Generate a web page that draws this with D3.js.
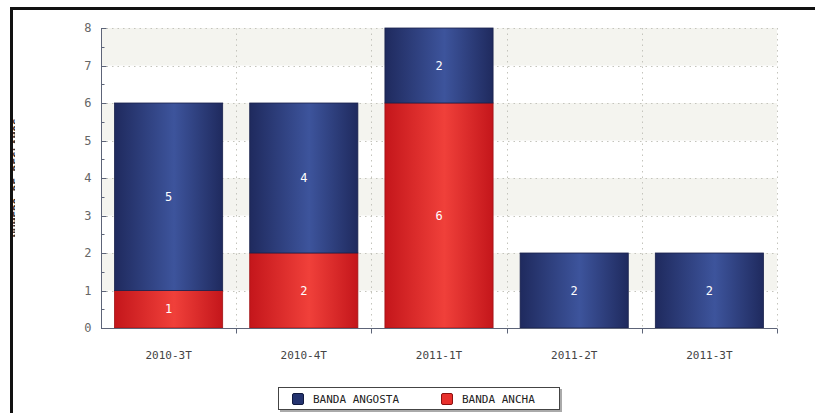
<!DOCTYPE html>
<html>
<head>
<meta charset="utf-8">
<script src="https://cdn.jsdelivr.net/npm/d3@7"></script>
<style>
  html, body { margin: 0; padding: 0; background: #fff; }
  svg { display: block; }
</style>
</head>
<body>
<svg id="chart" width="815" height="413"></svg>
<script>
// Quarterly counts per band type
const categories = ["2010-3T", "2010-4T", "2011-1T", "2011-2T", "2011-3T"];
const bandaAncha = [1, 2, 6, 0, 0];
const bandaAngosta = [5, 4, 2, 2, 2];
const seriesNames = ["BANDA ANGOSTA", "BANDA ANCHA"];
const yTicks = [0, 1, 2, 3, 4, 5, 6, 7, 8];

const svg = d3.select("#chart");
const W = 815, H = 413;
const margin = { left: 101, right: 38, top: 28, bottom: 85 };
const x0 = margin.left, x1 = W - margin.right;
const y0 = H - margin.bottom, y1 = margin.top;

const x = d3.scaleBand().domain(categories).range([x0, x1]).paddingInner(0.2).paddingOuter(0.1);
const xb = d3.scaleBand().domain(categories).range([x0, x1]).padding(0);
const y = d3.scaleLinear().domain([0, 8]).range([y0, y1]);

const defs = svg.append("defs");
function grad(id, edge, mid) {
  const g = defs.append("linearGradient").attr("id", id).attr("x1", "0%").attr("x2", "100%");
  g.append("stop").attr("offset", "0%").attr("stop-color", edge);
  g.append("stop").attr("offset", "55%").attr("stop-color", mid);
  g.append("stop").attr("offset", "100%").attr("stop-color", edge);
}
grad("gBlue", "#1f2a5e", "#3d549c");
grad("gRed", "#c4161b", "#f0403a");

// Axis title mostly hidden behind the frame edge
defs.append("clipPath").attr("id", "titleClip").append("rect")
  .attr("x", 10).attr("y", 0).attr("width", 5).attr("height", H);
svg.append("g").attr("clip-path", "url(#titleClip)")
  .append("text")
  .attr("transform", "translate(21,178) rotate(-90)")
  .attr("text-anchor", "middle")
  .attr("font-family", "DejaVu Sans Mono, monospace")
  .attr("font-size", 11)
  .attr("font-weight", "bold")
  .attr("fill", "#333")
  .text("NÚMERO DE RECLAMOS");

// Frame around the chart
svg.append("path").attr("d", `M11.5,${H} L11.5,8.5 L${W},8.5`)
  .attr("fill", "none").attr("stroke", "#111").attr("stroke-width", 3);

// Alternating background bands
const bands = yTicks.slice(0, -1).filter(v => v % 2 === 1);
svg.append("g").selectAll("rect").data(bands).join("rect")
  .attr("x", x0).attr("width", x1 - x0)
  .attr("y", d => y(d + 1)).attr("height", d => y(d) - y(d + 1))
  .attr("fill", "#f4f4ef");

// Dotted grid
const grid = svg.append("g").attr("stroke", "#c4c4bc").attr("stroke-dasharray", "1.5,4").attr("stroke-width", 1);
grid.selectAll("line.h").data(yTicks.slice(1)).join("line").attr("class", "h")
  .attr("x1", x0).attr("x2", x1).attr("y1", d => Math.round(y(d)) + 0.5).attr("y2", d => Math.round(y(d)) + 0.5);
const vx = categories.slice(1).map(c => xb(c)).concat([x1]);
grid.selectAll("line.v").data(vx).join("line").attr("class", "v")
  .attr("x1", d => Math.round(d) + 0.5).attr("x2", d => Math.round(d) + 0.5).attr("y1", y1).attr("y2", y0);

// Stacked bars
const rows = categories.map((c, i) => ({ cat: c, ancha: bandaAncha[i], angosta: bandaAngosta[i] }));
const stack = d3.stack().keys(["ancha", "angosta"])(rows);
const fills = { ancha: "url(#gRed)", angosta: "url(#gBlue)" };
const strokes = { ancha: "#a01216", angosta: "#1a224d" };
stack.forEach(layer => {
  const g = svg.append("g");
  const segs = layer.filter(d => d[1] > d[0]);
  g.selectAll("rect").data(segs).join("rect")
    .attr("x", d => x(d.data.cat)).attr("width", x.bandwidth())
    .attr("y", d => y(d[1])).attr("height", d => y(d[0]) - y(d[1]))
    .attr("fill", fills[layer.key]).attr("stroke", strokes[layer.key]).attr("stroke-width", 0.8);
  g.selectAll("text").data(segs).join("text")
    .attr("x", d => x(d.data.cat) + x.bandwidth() / 2)
    .attr("y", d => (y(d[0]) + y(d[1])) / 2 + 4)
    .attr("text-anchor", "middle")
    .attr("font-family", "DejaVu Sans Mono, monospace")
    .attr("font-size", 12)
    .attr("fill", "#fff")
    .text(d => d[1] - d[0]);
});

// Axes
const axisColor = "#5d6478";
const yAxis = svg.append("g").attr("transform", `translate(${x0 + 0.5},0)`);
yAxis.append("line").attr("y1", y0).attr("y2", y1).attr("stroke", axisColor);
const minor = d3.range(0.5, 8, 1);
yAxis.selectAll("line.mi").data(minor).join("line").attr("class", "mi")
  .attr("x1", 0).attr("x2", 3).attr("y1", d => Math.round(y(d)) + 0.5).attr("y2", d => Math.round(y(d)) + 0.5)
  .attr("stroke", axisColor);
yAxis.selectAll("line.ma").data(yTicks).join("line").attr("class", "ma")
  .attr("x1", 0).attr("x2", 5).attr("y1", d => Math.round(y(d)) + 0.5).attr("y2", d => Math.round(y(d)) + 0.5)
  .attr("stroke", axisColor);
yAxis.selectAll("text").data(yTicks).join("text")
  .attr("x", -10).attr("y", d => y(d) + 4)
  .attr("text-anchor", "end")
  .attr("font-family", "DejaVu Sans Mono, monospace")
  .attr("font-size", 12).attr("fill", "#666")
  .text(d => d);

const xAxis = svg.append("g").attr("transform", `translate(0,${y0 + 0.5})`);
xAxis.append("line").attr("x1", x0).attr("x2", x1).attr("stroke", axisColor);
xAxis.selectAll("line.t").data(vx).join("line").attr("class", "t")
  .attr("x1", d => Math.round(d) + 0.5).attr("x2", d => Math.round(d) + 0.5).attr("y1", 0).attr("y2", 5)
  .attr("stroke", axisColor);
xAxis.selectAll("text").data(categories).join("text")
  .attr("x", d => xb(d) + xb.bandwidth() / 2).attr("y", 30)
  .attr("text-anchor", "middle")
  .attr("font-family", "DejaVu Sans Mono, monospace")
  .attr("font-size", 11).attr("fill", "#444")
  .text(d => d);

// Legend
const lg = svg.append("g").attr("transform", "translate(278,387)");
lg.append("rect").attr("x", 2).attr("y", 2).attr("width", 282).attr("height", 23).attr("fill", "#aaa");
lg.append("rect").attr("x", 0.5).attr("y", 0.5).attr("width", 281).attr("height", 22)
  .attr("fill", "#fff").attr("stroke", "#444");
const legItems = [
  { name: seriesNames[0], fill: "#24336f", stroke: "#111a40", x: 14 },
  { name: seriesNames[1], fill: "#e8302c", stroke: "#8c1010", x: 163 }
];
const li = lg.selectAll("g.it").data(legItems).join("g").attr("class", "it")
  .attr("transform", d => `translate(${d.x},6)`);
li.append("rect").attr("x", 0.5).attr("y", 0.5).attr("width", 11).attr("height", 11).attr("rx", 1.5)
  .attr("fill", d => d.fill).attr("stroke", d => d.stroke);
li.append("text").attr("x", 21).attr("y", 10)
  .attr("font-family", "DejaVu Sans Mono, monospace")
  .attr("font-size", 11).attr("fill", "#222")
  .text(d => d.name);
</script>
</body>
</html>
